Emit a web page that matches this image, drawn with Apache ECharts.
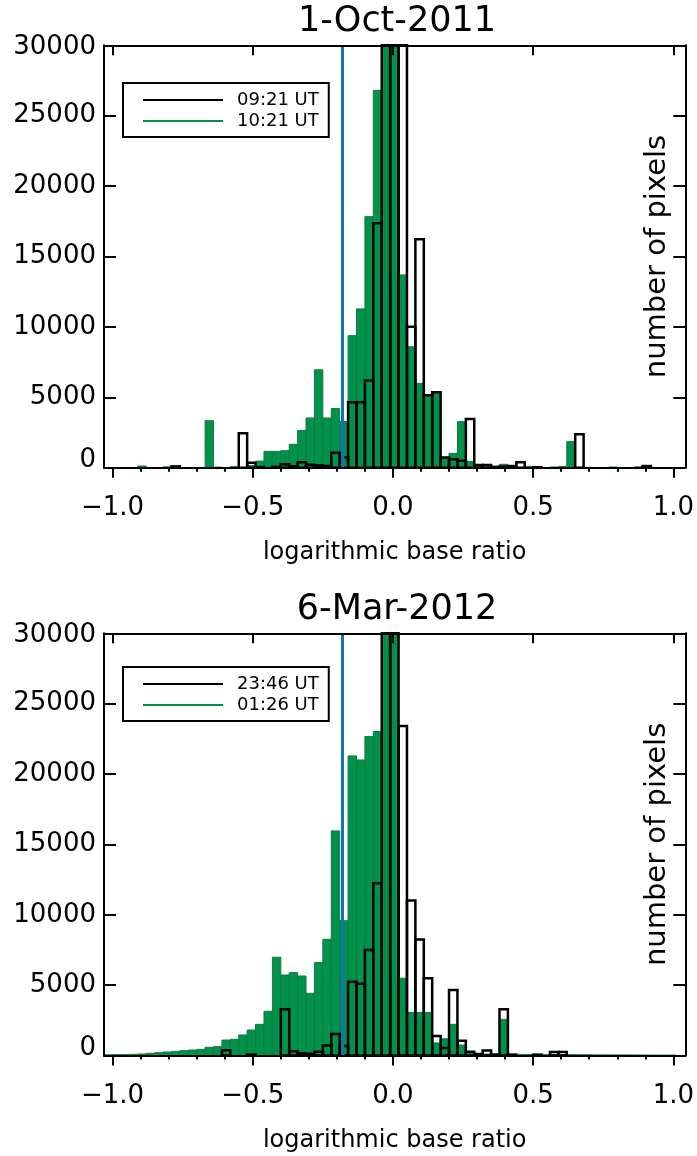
<!DOCTYPE html>
<html><head><meta charset="utf-8">
<script src="https://cdn.jsdelivr.net/npm/echarts@6/dist/echarts.min.js"></script>
<style>html,body{margin:0;padding:0;background:#fff}#c{width:697px;height:1156px}</style>
</head><body><div id="c"></div>
<script>
// ---------- data ----------
const binCenters = [-1.015,-0.985,-0.955,-0.925,-0.895,-0.865,-0.835,-0.805,-0.775,-0.745,
  -0.715,-0.685,-0.655,-0.625,-0.595,-0.565,-0.535,-0.505,-0.475,-0.445,
  -0.415,-0.385,-0.355,-0.325,-0.295,-0.265,-0.235,-0.205,-0.175,-0.145,
  -0.115,-0.085,-0.055,-0.025,0.005,0.035,0.065,0.095,0.125,0.155,
  0.185,0.215,0.245,0.275,0.305,0.335,0.365,0.395,0.425,0.455,
  0.485,0.515,0.545,0.575,0.605,0.635,0.665,0.695,0.725,0.755,
  0.785,0.815,0.845,0.875,0.905,0.935,0.965,0.995,1.025];
const binWidth = 0.03;
const titles = ['1-Oct-2011', '6-Mar-2012'];
const legendOct = ['09:21 UT', '10:21 UT'];
const legendMar = ['23:46 UT', '01:26 UT'];
const cutoffRatio = -0.18;
const xTickMajor = [-1.0, -0.5, 0.0, 0.5, 1.0];
const xTickMinor = [-1.0,-0.9,-0.8,-0.7,-0.6,-0.5,-0.4,-0.3,-0.2,-0.1,0.0,0.1,0.2,0.3,0.4,0.5,0.6,0.7,0.8,0.9,1.0];
const yTicks = [0, 5000, 10000, 15000, 20000, 25000, 30000];

const oct_0921 = [0,0,0,0,0,0,0,0,95,0,
  0,0,0,0,0,0,2440,355,40,0,
  60,237,100,380,213,166,120,1065,740,4650,
  4650,6200,17360,38000,40000,35000,10010,16220,5150,5350,
  730,600,500,3460,190,190,60,80,118,380,
  0,30,0,0,0,0,2370,0,0,0,
  0,0,0,0,118,0,0,0,0];
const oct_1021 = [0,0,0,0,120,0,0,60,0,0,
  0,0,3340,40,0,90,0,150,470,1160,
  1160,1210,1660,2650,3530,6950,3530,4200,3270,9380,
  11280,17830,26800,36000,34000,13690,8590,5990,5070,5300,
  730,1020,3270,450,60,40,60,240,150,0,
  90,50,0,50,90,1850,0,0,0,0,
  50,0,0,60,0,0,0,0,0];
const mar_2346 = [0,0,0,0,0,0,0,0,0,0,
  0,0,0,0,380,0,0,60,0,0,
  0,3280,300,154,120,270,715,1530,670,5240,
  5100,7490,12240,40000,38000,23420,11020,8250,5490,1386,
  530,4650,1053,270,100,360,60,3280,60,0,
  0,60,0,250,250,0,0,0,0,0,
  0,0,0,0,0,0,0,0,0];
const mar_0126 = [50,60,60,83,107,154,200,250,296,344,
  390,438,580,628,1100,1150,1457,1812,2215,3140,
  6980,5720,5890,5650,4420,6600,8260,15960,9580,21290,
  21000,22670,23020,36000,35000,5490,3060,3060,3060,890,
  1190,2215,745,270,154,100,100,2570,90,80,
  70,80,60,60,60,60,50,50,45,45,
  40,40,40,35,35,30,30,30,0];

// ---------- style ----------
const FONT = 'DejaVu Sans';
const GREEN = '#00924a', GREEN_EDGE = '#127a40', BLUE = '#0f74b1';
const XMIN = -1.0306, XMAX = 1.0427, YMAX = 30000;
const grids = [
  {left: 104, top: 45.3, width: 582.5, height: 422.4},
  {left: 104, top: 633.3, width: 582.5, height: 422.2}
];
const axisLineStyle = {color: '#000', width: 2};

function fmtX(v) { return (v < 0 ? '\u2212' : '') + Math.abs(v).toFixed(1); }
function fmtY(v) {
  if (v === 0) return '{lo|0}';
  if (v === 30000) return '{hi|30000}';
  return String(v);
}
const yRich = {
  lo: {fontSize: 26, fontFamily: FONT, color: '#000', padding: [0, 0, 14, 0]},
  hi: {fontSize: 26, fontFamily: FONT, color: '#000', padding: [4, 0, 0, 0]}
};

function xAxesFor(g) {
  return [
    {type: 'value', gridIndex: g, position: 'bottom', min: XMIN, max: XMAX, z: 10,
     axisLine: {show: true, onZero: false, lineStyle: axisLineStyle},
     axisTick: {show: true, inside: false, length: 10, customValues: xTickMajor, lineStyle: axisLineStyle},
     axisLabel: {show: true, customValues: xTickMajor, formatter: fmtX, margin: 28, color: '#000', fontSize: 26, fontFamily: FONT},
     splitLine: {show: false},
     name: 'logarithmic base ratio', nameLocation: 'middle', nameGap: 73,
     nameTextStyle: {fontSize: 24, fontFamily: FONT, color: '#000'}},
    {type: 'value', gridIndex: g, position: 'bottom', min: XMIN, max: XMAX, z: 10,
     axisLine: {show: false, onZero: false},
     axisTick: {show: true, inside: false, length: 4, customValues: xTickMinor, lineStyle: axisLineStyle},
     axisLabel: {show: false}, splitLine: {show: false}},
    {type: 'value', gridIndex: g, position: 'top', min: XMIN, max: XMAX, z: 10,
     axisLine: {show: true, onZero: false, lineStyle: axisLineStyle},
     axisTick: {show: true, inside: true, length: 10, customValues: xTickMajor, lineStyle: axisLineStyle},
     axisLabel: {show: false}, splitLine: {show: false}}
  ];
}
function yAxesFor(g) {
  return [
    {type: 'value', gridIndex: g, position: 'left', min: yTicks[0], max: yTicks[yTicks.length - 1], interval: yTicks[1] - yTicks[0], z: 10,
     axisLine: {show: true, onZero: false, lineStyle: axisLineStyle},
     axisTick: {show: true, inside: true, length: 12, lineStyle: axisLineStyle},
     axisLabel: {show: true, margin: 8, formatter: fmtY, rich: yRich, color: '#000', fontSize: 26, fontFamily: FONT},
     splitLine: {show: false}},
    {type: 'value', gridIndex: g, position: 'right', min: yTicks[0], max: yTicks[yTicks.length - 1], interval: yTicks[1] - yTicks[0], z: 10,
     axisLine: {show: true, onZero: false, lineStyle: axisLineStyle},
     axisTick: {show: true, inside: true, length: 12, lineStyle: axisLineStyle},
     axisLabel: {show: false}, splitLine: {show: false},
     name: 'number of pixels', nameLocation: 'middle', nameRotate: 90, nameGap: -42,
     nameTextStyle: {fontSize: 29, fontFamily: FONT, color: '#000'}}
  ];
}

function barRenderer(fill, stroke, lw) {
  return function (params, api) {
    const x = api.value(0);
    const v = Math.min(api.value(1), YMAX);
    if (!(v > 0)) return null;
    const p0 = api.coord([x - binWidth / 2, 0]);
    const p1 = api.coord([x + binWidth / 2, v]);
    return {
      type: 'rect',
      shape: {x: p0[0], y: p1[1], width: p1[0] - p0[0], height: p0[1] - p1[1]},
      style: {fill: fill, stroke: stroke, lineWidth: lw}
    };
  };
}
function pairs(vals) { return binCenters.map((c, i) => [c, vals[i]]); }

function seriesFor(g, blackName, blackVals, greenName, greenVals) {
  const xi = g * 3, yi = g * 2;
  return [
    {type: 'custom', name: blackName, xAxisIndex: xi, yAxisIndex: yi, z: 2, silent: true,
     renderItem: barRenderer('#ffffff', null, 0), data: pairs(blackVals), encode: {x: 0, y: 1}},
    {type: 'custom', name: greenName, xAxisIndex: xi, yAxisIndex: yi, z: 3, silent: true,
     renderItem: barRenderer(GREEN, GREEN_EDGE, 1), data: pairs(greenVals), encode: {x: 0, y: 1}},
    {type: 'custom', name: blackName, xAxisIndex: xi, yAxisIndex: yi, z: 4, silent: true,
     renderItem: barRenderer(null, '#000', 2.5), data: pairs(blackVals), encode: {x: 0, y: 1}},
    {type: 'line', name: 'cutoff' + g, xAxisIndex: xi, yAxisIndex: yi, z: 5, silent: true,
     showSymbol: false, symbol: 'none', data: [[cutoffRatio, 0], [cutoffRatio, YMAX]],
     lineStyle: {color: BLUE, width: 3}}
  ];
}

function legendFor(names, top) {
  return {
    orient: 'vertical', left: 123, top: top, z: 20, selectedMode: false,
    backgroundColor: '#fff', borderColor: '#000', borderWidth: 2,
    padding: [7, 10, 6, 20], itemGap: 1, itemWidth: 80, itemHeight: 2,
    textStyle: {fontSize: 18, fontFamily: FONT, color: '#000', lineHeight: 20, padding: [0, 0, 0, 9]},
    data: [
      {name: names[0], icon: 'rect', itemStyle: {color: '#000', borderWidth: 0}},
      {name: names[1], icon: 'rect', itemStyle: {color: GREEN, borderWidth: 0}}
    ]
  };
}

const chart = echarts.init(document.getElementById('c'), null, {renderer: 'canvas', width: 697, height: 1156});
chart.setOption({
  animation: false,
  backgroundColor: '#fff',
  title: [
    {text: titles[0], left: 392, top: -1, textAlign: 'center',
     textStyle: {fontSize: 35, fontWeight: 'normal', fontFamily: FONT, color: '#000'}},
    {text: titles[1], left: 392, top: 587, textAlign: 'center',
     textStyle: {fontSize: 35, fontWeight: 'normal', fontFamily: FONT, color: '#000'}}
  ],
  legend: [legendFor(legendOct, 83), legendFor(legendMar, 667)],
  grid: grids,
  xAxis: xAxesFor(0).concat(xAxesFor(1)),
  yAxis: yAxesFor(0).concat(yAxesFor(1)),
  series: seriesFor(0, legendOct[0], oct_0921, legendOct[1], oct_1021)
    .concat(seriesFor(1, legendMar[0], mar_2346, legendMar[1], mar_0126))
});
</script>
</body></html>
